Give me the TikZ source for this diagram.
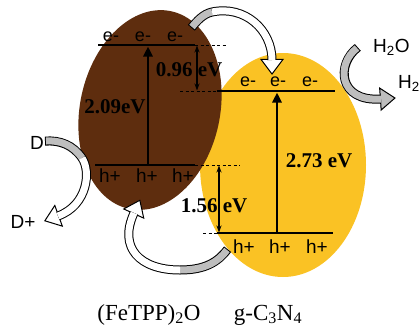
\documentclass[tikz,border=0pt]{standalone}
\usepackage{fontspec}
\setmainfont{Liberation Serif}
\setsansfont{Liberation Sans}
\usetikzlibrary{arrows.meta}
\definecolor{brownfill}{RGB}{94,45,14}
\definecolor{yellowfill}{RGB}{250,194,36}
\definecolor{bandgray}{RGB}{190,190,190}
\newcommand\blockhead[3]{%
  \begin{scope}[shift={#1}, rotate=#2]
    \filldraw[fill=#3, draw=black, line width=1pt, line join=miter]
      (-0.6pt,-11pt) -- (14pt,0pt) -- (-0.6pt,11pt) -- cycle;
  \end{scope}}
\begin{document}
\begin{tikzpicture}[x=1pt,y=-1pt,
  level/.style={line width=2.8pt, line cap=butt},
  dashlev/.style={line width=0.8pt, dash pattern=on 3pt off 2.5pt},
  bigarrow/.style={line width=2.6pt, -{Triangle[length=10pt,width=9pt]}},
  gaparrow/.style={line width=1.1pt, {Stealth[length=7pt,width=5pt]}-{Stealth[length=7pt,width=5pt]}},
  elab/.style={font=\sffamily\fontsize{18}{20}\selectfont, inner sep=0pt},
  hlab/.style={font=\sffamily\fontsize{19}{21}\selectfont, inner sep=0pt},
  evlab/.style={font=\bfseries\fontsize{21}{24}\selectfont, inner sep=0pt},
  specie/.style={font=\sffamily\fontsize{19}{21}\selectfont, inner sep=0pt},
  captext/.style={font=\fontsize{23}{27}\selectfont, inner sep=0pt},
  bandout/.style={line width=9pt, draw=black, line cap=butt, line join=round},
  bandin/.style={line width=7pt, line cap=butt, line join=round}]
\useasboundingbox (0,0) rectangle (420,327);
\clip (0,0) rectangle (420,327);

% bodies
\fill[yellowfill] (283,165) ellipse [x radius=83pt, y radius=112pt];
\fill[brownfill, rotate around={-12:(150,110)}] (150,110) ellipse [x radius=70pt, y radius=101pt];

% energy levels
\coordinate (bt1) at (98,45);  \coordinate (bt2) at (195,45);  \coordinate (bt3) at (226,45);
\coordinate (bb1) at (95,165); \coordinate (bb2) at (195,165); \coordinate (bb3) at (240,165);
\coordinate (yt0) at (180,91); \coordinate (yt1) at (217,91);  \coordinate (yt2) at (335,91);
\coordinate (yb0) at (203,233);\coordinate (yb1) at (217,233); \coordinate (yb2) at (333,233);
\draw[level] (bt1) -- (bt2);
\draw[dashlev] (bt2) -- (bt3);
\draw[level] (bb1) -- (bb2);
\draw[dashlev] (bb2) -- (bb3);
\draw[dashlev] (yt0) -- (yt1);
\draw[level] (yt1) -- (yt2);
\draw[dashlev] (yb0) -- (yb1);
\draw[level] (yb1) -- (yb2);

% band-gap arrows
\coordinate (ba0) at (148,165); \coordinate (ba1) at (148,46.5);
\coordinate (ya0) at (277,233); \coordinate (ya1) at (277,92.5);
\draw[bigarrow] (ba0) -- (ba1);
\draw[bigarrow] (ya0) -- (ya1);
\coordinate (ga0) at (197,45.5); \coordinate (ga1) at (197,90.5);
\coordinate (gb0) at (219,165.5); \coordinate (gb1) at (219,232.5);
\draw[gaparrow] (ga0) -- (ga1);
\draw[gaparrow] (gb0) -- (gb1);

% labels
\node[elab] (be1) at (111,37) {e-};
\node[elab] (be2) at (143,37) {e-};
\node[elab] (be3) at (175,37) {e-};
\node[elab] (ye1) at (248,82) {e-};
\node[elab] (ye2) at (278,82) {e-};
\node[elab] (ye3) at (310,82) {e-};
\node[hlab] (bh1) at (110,176) {h+};
\node[hlab] (bh2) at (147,176) {h+};
\node[hlab] (bh3) at (183,176) {h+};
\node[hlab] (yh1) at (244,247) {h+};
\node[hlab] (yh2) at (280,247) {h+};
\node[hlab] (yh3) at (317,247) {h+};
\node[evlab] (ev1) at (115,107) {2.09eV};
\node[evlab] (ev2) at (189,70) {0.96 eV};
\node[evlab] (ev3) at (319,161) {2.73 eV};
\node[evlab] (ev4) at (214,206) {1.56 eV};

\node[specie] (D) at (37,143) {D};
\node[specie] (Dp) at (23,222) {D+};
\node[specie, anchor=base west] (h2o) at (373,52) {H\textsubscript{2}O};
\node[specie, anchor=base west] (h2) at (398,88) {H\textsubscript{2}};

\node[captext, anchor=base] (cap1) at (149,320) {(FeTPP)\textsubscript{2}O};
\node[captext, anchor=base] (cap2) at (268,320) {g-C\textsubscript{3}N\textsubscript{4}};

% block arrow: brown e- -> yellow e-
\coordinate (aT) at (192,27); \coordinate (aM) at (212,12); \coordinate (aE) at (272,60);
\blockhead{(aE)}{-90}{white}
\draw[bandout, shorten <=-1pt] (aT) .. controls (197,21) and (203,14) .. (aM) .. controls (245,5) and (272,30) .. (aE);
\draw[bandin, draw=bandgray] (aT) .. controls (197,21) and (203,14) .. (aM);
\draw[bandin, draw=white] (aM) .. controls (245,5) and (272,30) .. (aE);

% block arrow: H2O -> H2
\coordinate (wT) at (357,48); \coordinate (wE) at (381,99);
\blockhead{(wE)}{4}{bandgray}
\draw[bandout, shorten <=-1pt] (wT) .. controls (336,64) and (338,102) .. (wE);
\draw[bandin, draw=bandgray] (wT) .. controls (336,64) and (338,102) .. (wE);

% block arrow: D -> D+
\coordinate (cT) at (46,141); \coordinate (cM) at (82,158); \coordinate (cE) at (58,216);
\blockhead{(cE)}{200}{white}
\draw[bandout, shorten <=-1pt] (cT) .. controls (60,140) and (73,145) .. (cM) .. controls (91,171) and (88,205) .. (cE);
\draw[bandin, draw=bandgray] (cT) .. controls (60,140) and (73,145) .. (cM);
\draw[bandin, draw=white] (cM) .. controls (91,171) and (88,205) .. (cE);

% block arrow: yellow h+ -> brown h+
\coordinate (dT) at (227,250); \coordinate (dM) at (180,270); \coordinate (dE) at (134,213);
\blockhead{(dE)}{65.4}{white}
\draw[bandout, shorten <=-1pt] (dT) .. controls (218,262) and (205,270) .. (dM) .. controls (140,270) and (118,248) .. (dE);
\draw[bandin, draw=bandgray] (dT) .. controls (218,262) and (205,270) .. (dM);
\draw[bandin, draw=white] (dM) .. controls (140,270) and (118,248) .. (dE);
\end{tikzpicture}
\end{document}
